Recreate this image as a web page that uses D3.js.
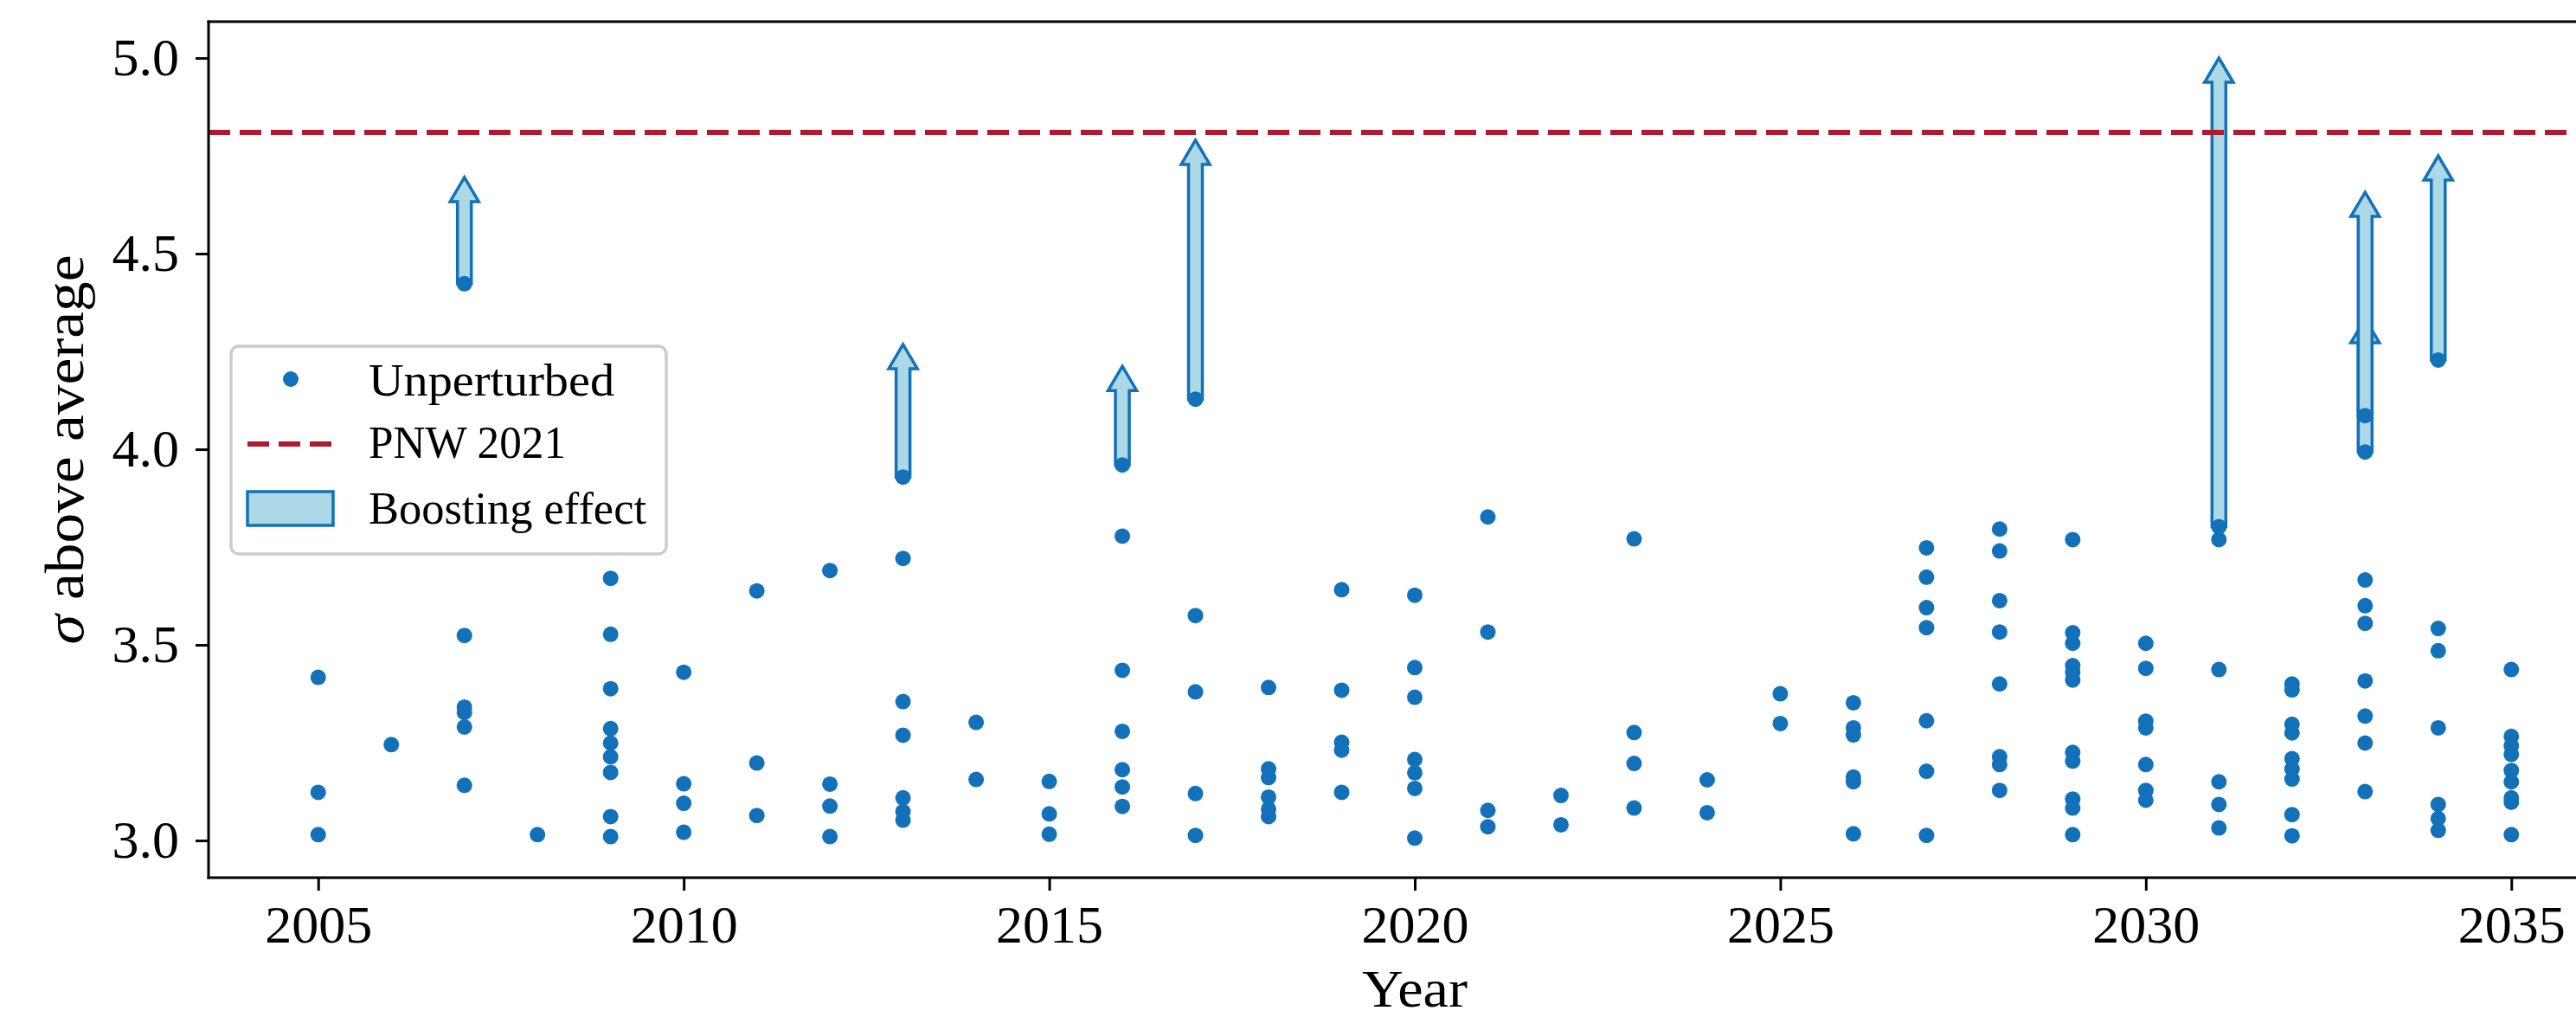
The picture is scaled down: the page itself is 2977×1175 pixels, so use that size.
<!DOCTYPE html>
<html>
<head>
<meta charset="utf-8">
<script src="https://cdn.jsdelivr.net/npm/d3@7"></script>
<style>
  html, body { margin: 0; padding: 0; background: #ffffff; overflow: hidden; }
  svg { display: block; }
  text { font-family: "Liberation Serif", "DejaVu Serif", serif; fill: #000; }
</style>
</head>
<body>
<svg id="chart" width="2977" height="1175"></svg>
<script>
// ---------------- data ----------------
const years = [2005, 2006, 2007, 2008, 2009, 2010, 2011, 2012, 2013, 2014,
               2015, 2016, 2017, 2018, 2019, 2020, 2021, 2022, 2023, 2024,
               2025, 2026, 2027, 2028, 2029, 2030, 2031, 2032, 2033, 2034, 2035];

// unperturbed sigma values per year (same order as years)
const unperturbed = [
  [3.417, 3.123, 3.015],
  [3.245],
  [4.423, 3.524, 3.341, 3.327, 3.290, 3.141],
  [3.015],
  [3.670, 3.527, 3.388, 3.286, 3.249, 3.214, 3.174, 3.061, 3.010],
  [3.430, 3.145, 3.095, 3.021],
  [3.638, 3.198, 3.064],
  [3.690, 3.144, 3.088, 3.010],
  [3.929, 3.721, 3.355, 3.269, 3.109, 3.074, 3.052],
  [3.302, 3.156],
  [3.151, 3.068, 3.016],
  [3.960, 3.778, 3.435, 3.279, 3.181, 3.137, 3.087],
  [4.128, 3.575, 3.380, 3.120, 3.013],
  [3.391, 3.183, 3.161, 3.111, 3.080, 3.061],
  [3.641, 3.384, 3.251, 3.231, 3.123],
  [3.627, 3.442, 3.366, 3.207, 3.173, 3.133, 3.006],
  [3.827, 3.533, 3.077, 3.035],
  [3.115, 3.040],
  [3.771, 3.276, 3.197, 3.083],
  [3.155, 3.071],
  [3.375, 3.299],
  [3.352, 3.288, 3.270, 3.162, 3.150, 3.017],
  [3.748, 3.673, 3.595, 3.544, 3.306, 3.177, 3.013],
  [3.796, 3.740, 3.613, 3.533, 3.400, 3.214, 3.194, 3.128],
  [3.769, 3.531, 3.504, 3.447, 3.430, 3.410, 3.225, 3.203, 3.106, 3.083, 3.015],
  [3.504, 3.440, 3.305, 3.288, 3.194, 3.128, 3.103],
  [3.802, 3.769, 3.437, 3.150, 3.092, 3.032],
  [3.400, 3.385, 3.297, 3.275, 3.209, 3.183, 3.157, 3.066, 3.012],
  [4.086, 3.993, 3.666, 3.600, 3.555, 3.408, 3.318, 3.249, 3.125],
  [4.228, 3.542, 3.485, 3.288, 3.092, 3.056, 3.026],
  [3.437, 3.266, 3.242, 3.220, 3.179, 3.150, 3.109, 3.098, 3.015]
];

// boosting arrows: start value -> arrow tip value
const boostYears = [2007, 2013, 2016, 2017, 2031, 2033, 2033, 2034];
const boostFrom  = [4.423, 3.929, 3.960, 4.128, 3.802, 4.086, 3.993, 4.228];
const boostTo    = [4.695, 4.268, 4.212, 4.790, 5.000, 4.334, 4.657, 4.750];

const pnw2021 = 4.810;

const xTicks = [2005, 2010, 2015, 2020, 2025, 2030, 2035];
const yTicks = [3.0, 3.5, 4.0, 4.5, 5.0];

const legendLabels = ["Unperturbed", "PNW 2021", "Boosting effect"];

// ---------------- styles ----------------
const blue = "#1271b9";
const lightBlue = "#add8e6";
const red = "#ae1b30";

// ---------------- layout ----------------
const svg = d3.select("#chart");
const plotLeft = 241, plotRight = 3029, plotTop = 25, plotBottom = 1014;

const x = d3.scaleLinear().domain([2003.5, 2036.5]).range([plotLeft, plotRight]);
const y = d3.scaleLinear().domain([2.905, 5.093]).range([plotBottom, plotTop]);

// axes
const xAxis = d3.axisBottom(x).tickValues(xTicks).tickFormat(d3.format("d"))
  .tickSize(15).tickPadding(16);
const yAxis = d3.axisLeft(y).tickValues(yTicks).tickFormat(d3.format(".1f"))
  .tickSize(15).tickPadding(19);

const gx = svg.append("g").attr("transform", `translate(0,${plotBottom})`).call(xAxis);
const gy = svg.append("g").attr("transform", `translate(${plotLeft},0)`).call(yAxis);
[gx, gy].forEach(g => {
  g.select(".domain").remove();
  g.selectAll(".tick line").attr("stroke", "#000").attr("stroke-width", 3);
  g.selectAll(".tick text").attr("font-size", 62)
    .attr("font-family", '"Liberation Serif", serif').attr("fill", "#000");
});

// arrows (boosting effect)
const shaftW = 16, headW = 33, headL = 28;
const arrowPath = (i) => {
  const cx = x(boostYears[i]);
  const y0 = y(boostFrom[i]);
  const yt = y(boostTo[i]);
  const yh = yt + headL;
  return `M${cx - shaftW / 2},${y0} L${cx - shaftW / 2},${yh} L${cx - headW / 2},${yh} ` +
         `L${cx},${yt} L${cx + headW / 2},${yh} L${cx + shaftW / 2},${yh} L${cx + shaftW / 2},${y0} Z`;
};
svg.append("g").selectAll("path").data(boostYears).join("path")
  .attr("d", (d, i) => arrowPath(i))
  .attr("fill", lightBlue).attr("stroke", blue).attr("stroke-width", 3.5)
  .attr("stroke-linejoin", "miter");

// PNW 2021 line
svg.append("line")
  .attr("x1", plotLeft).attr("x2", plotRight)
  .attr("y1", y(pnw2021)).attr("y2", y(pnw2021))
  .attr("stroke", red).attr("stroke-width", 6).attr("stroke-dasharray", "25,11");

// unperturbed points
const pts = [];
years.forEach((yr, i) => unperturbed[i].forEach(v => pts.push({ yr, v })));
svg.append("g").selectAll("circle").data(pts).join("circle")
  .attr("cx", d => x(d.yr)).attr("cy", d => y(d.v)).attr("r", 9)
  .attr("fill", blue);

// spines
svg.append("line").attr("x1", plotLeft).attr("x2", plotLeft).attr("y1", plotTop - 1.5).attr("y2", plotBottom + 1.5)
  .attr("stroke", "#000").attr("stroke-width", 3);
svg.append("line").attr("x1", plotLeft - 1.5).attr("x2", plotRight).attr("y1", plotBottom).attr("y2", plotBottom)
  .attr("stroke", "#000").attr("stroke-width", 3);
svg.append("line").attr("x1", plotLeft - 1.5).attr("x2", plotRight).attr("y1", plotTop).attr("y2", plotTop)
  .attr("stroke", "#000").attr("stroke-width", 3);

// axis labels
svg.append("text").attr("x", (plotLeft + plotRight) / 2).attr("y", 1163)
  .attr("text-anchor", "middle").attr("font-size", 62)
  .attr("textLength", 122).attr("lengthAdjust", "spacingAndGlyphs")
  .text("Year");

const yl = svg.append("text")
  .attr("transform", `translate(96,${(plotTop + plotBottom) / 2}) rotate(-90)`)
  .attr("text-anchor", "middle").attr("font-size", 64)
  .attr("textLength", 450).attr("lengthAdjust", "spacingAndGlyphs");
yl.append("tspan").attr("font-style", "italic").text("σ");
yl.append("tspan").text(" above average");

// legend
const lg = svg.append("g");
lg.append("rect").attr("x", 267).attr("y", 400).attr("width", 503).attr("height", 240)
  .attr("rx", 9).attr("ry", 9)
  .attr("fill", "#ffffff").attr("fill-opacity", 0.85)
  .attr("stroke", "#cccccc").attr("stroke-width", 3.5);
lg.append("circle").attr("cx", 336).attr("cy", 438).attr("r", 9).attr("fill", blue);
lg.append("line").attr("x1", 286).attr("x2", 384).attr("y1", 513).attr("y2", 513)
  .attr("stroke", red).attr("stroke-width", 6).attr("stroke-dasharray", "25,11");
lg.append("rect").attr("x", 286).attr("y", 568).attr("width", 99).attr("height", 39)
  .attr("fill", lightBlue).attr("stroke", blue).attr("stroke-width", 3.5);
const legendBaselines = [457, 529, 605];
const legendWidths = [284, 228, 321];
lg.selectAll("text.lab").data(legendLabels).join("text").attr("class", "lab")
  .attr("x", 426).attr("y", (d, i) => legendBaselines[i])
  .attr("font-size", 52)
  .attr("textLength", (d, i) => legendWidths[i]).attr("lengthAdjust", "spacingAndGlyphs")
  .text(d => d);
</script>
</body>
</html>
